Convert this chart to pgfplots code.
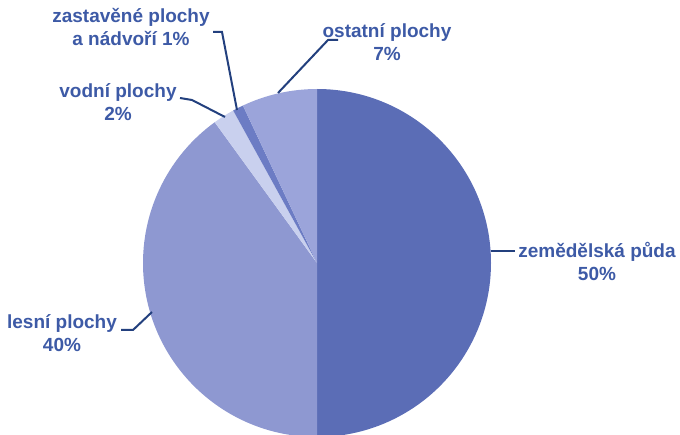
\documentclass[border=0pt]{standalone}
\usepackage{pgfplots}
\usepackage{pgfplotstable}
\usepackage{fontspec}
\setmainfont{Liberation Sans}
\pgfplotsset{compat=1.18}

\definecolor{zemc}{HTML}{5B6DB6}
\definecolor{lesc}{HTML}{8E98D1}
\definecolor{vodc}{HTML}{C9D0EE}
\definecolor{zasc}{HTML}{6C7CC4}
\definecolor{ostc}{HTML}{9BA4DA}
\definecolor{txtc}{HTML}{3D5AA6}
\definecolor{linec}{HTML}{23407E}

\tikzset{lbl/.style={font=\bfseries\fontsize{9.5}{11.5}\selectfont, text=txtc, align=center, inner sep=0pt}}

% shares in percent, clockwise from 12 o'clock
\pgfplotstableread{
part value
zemedelska 50
lesni 40
vodni 2
zastavene 1
ostatni 7
}\piedata

\begin{document}
\begin{tikzpicture}
\pgfplotstablegetelem{0}{value}\of\piedata \let\vA\pgfplotsretval
\pgfplotstablegetelem{1}{value}\of\piedata \let\vB\pgfplotsretval
\pgfplotstablegetelem{2}{value}\of\piedata \let\vC\pgfplotsretval
\pgfplotstablegetelem{3}{value}\of\piedata \let\vD\pgfplotsretval
\pgfplotstablegetelem{4}{value}\of\piedata \let\vE\pgfplotsretval
\pgfmathsetmacro\aA{90-3.6*\vA}
\pgfmathsetmacro\aB{\aA-3.6*\vB}
\pgfmathsetmacro\aC{\aB-3.6*\vC}
\pgfmathsetmacro\aD{\aC-3.6*\vD}
\pgfmathsetmacro\aE{\aD-3.6*\vE}
\begin{axis}[
    x=0.5pt, y=0.5pt,
    xmin=0, xmax=680, ymin=0, ymax=434,
    hide axis, clip=true,
  ]
  \coordinate (sw) at (axis cs:0,0);
  \coordinate (ne) at (axis cs:680,434);
  % wedges
  \fill[zemc] (axis cs:317,171) -- ++(90:87pt) arc[start angle=90, end angle=\aA, radius=87pt] -- cycle;
  \fill[lesc] (axis cs:317,171) -- ++(\aA:87pt) arc[start angle=\aA, end angle=\aB, radius=87pt] -- cycle;
  \fill[vodc] (axis cs:317,171) -- ++(\aB:87pt) arc[start angle=\aB, end angle=\aC, radius=87pt] -- cycle;
  \fill[zasc] (axis cs:317,171) -- ++(\aC:87pt) arc[start angle=\aC, end angle=\aD, radius=87pt] -- cycle;
  \fill[ostc] (axis cs:317,171) -- ++(\aD:87pt) arc[start angle=\aD, end angle=\aE, radius=87pt] -- cycle;
  % leader lines
  \draw[linec, line width=1pt] (axis cs:213,402) -- (axis cs:222,402) -- (axis cs:237,324);
  \draw[linec, line width=1pt] (axis cs:180,336) -- (axis cs:192,334) -- (axis cs:225,317);
  \draw[linec, line width=1pt] (axis cs:338,394) -- (axis cs:328,394) -- (axis cs:278,341);
  \draw[linec, line width=1pt] (axis cs:491,183) -- (axis cs:515,183);
  \draw[linec, line width=1pt] (axis cs:121,104) -- (axis cs:133,104) -- (axis cs:152,122);
  % labels
  \node[lbl] at (axis cs:131,407) {zastavěné plochy\\a nádvoří 1\%};
  \node[lbl] at (axis cs:118,332) {vodní plochy\\2\%};
  \node[lbl] at (axis cs:387,392) {ostatní plochy\\7\%};
  \node[lbl] at (axis cs:597,173) {zemědělská půda\\50\%};
  \node[lbl] at (axis cs:62,101) {lesní plochy\\40\%};
\end{axis}
\pgfresetboundingbox
\path[use as bounding box] (sw) rectangle (ne);
\end{tikzpicture}
\end{document}
